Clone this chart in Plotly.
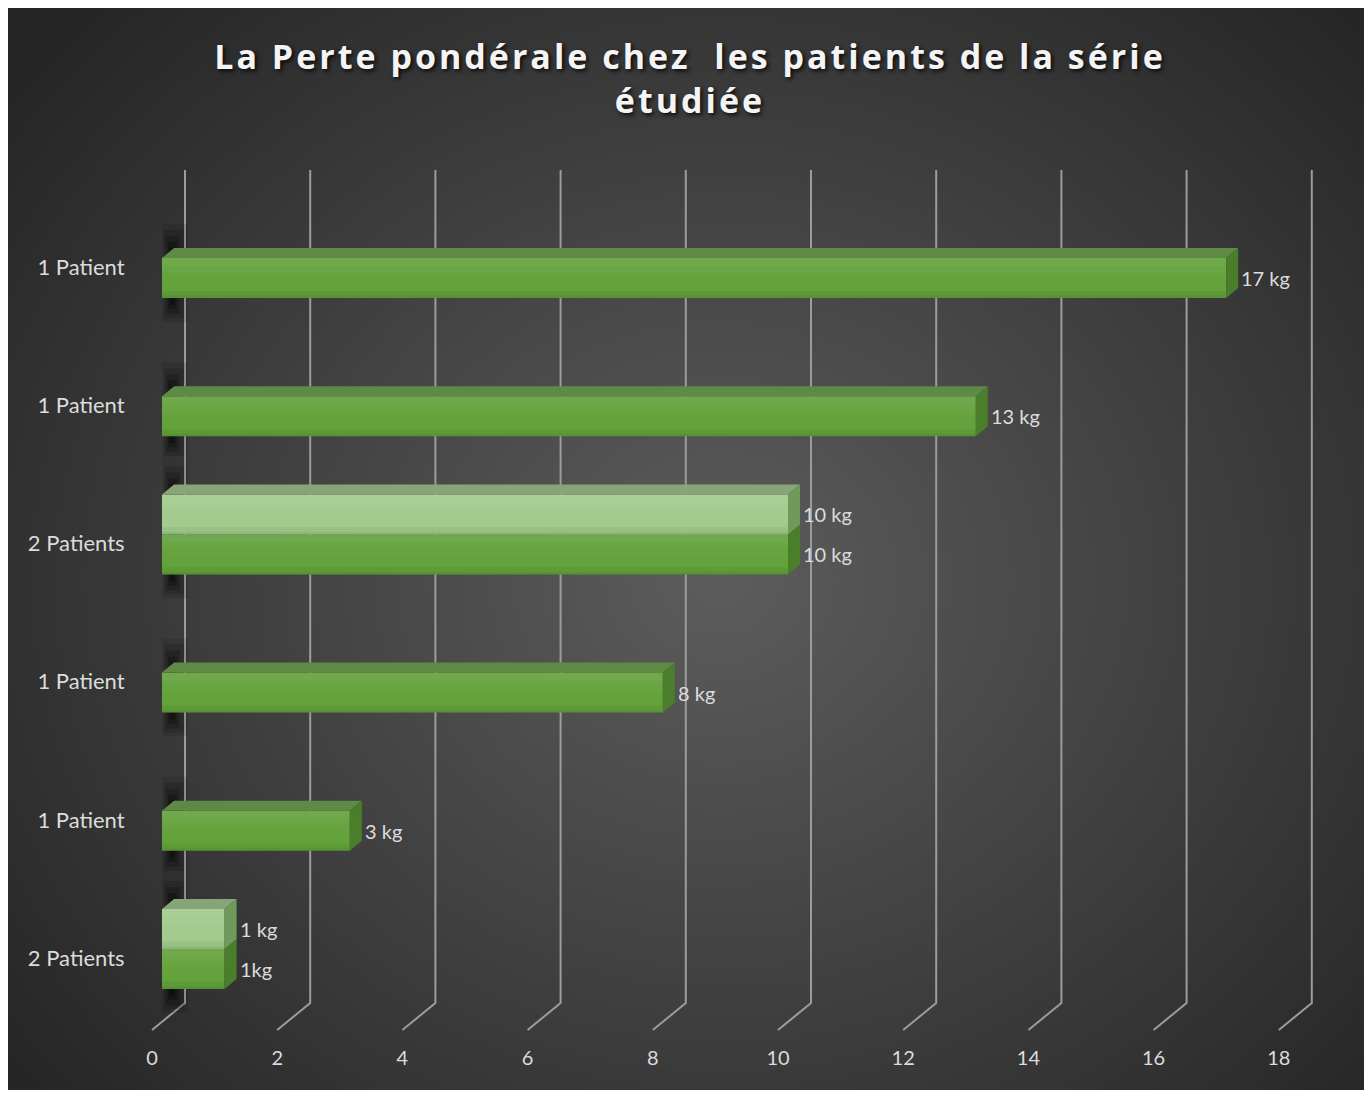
import base64, struct, zlib
import numpy as np
import plotly.graph_objects as go

# ---------------- data (top to bottom as displayed) ----------------
categories = ["1 Patient", "1 Patient", "2 Patients", "1 Patient", "1 Patient", "2 Patients"]
serie1 = [17, 13, 10, 8, 3, 1]                    # dark green series
serie2 = [None, None, 10, None, None, 1]          # light green series
labels1 = ["17 kg", "13 kg", "10 kg", "8 kg", "3 kg", "1kg"]
labels2 = [None, None, "10 kg", None, None, "1 kg"]
xticks = [0, 2, 4, 6, 8, 10, 12, 14, 16, 18]
title_line1 = "La Perte pondérale chez  les patients de la série"
title_line2 = "étudiée"

# ---------------- geometry (page has an 8px body margin) ----------------
OFF = 8
W, H = 1372 - OFF, 1093 - OFF
ML, MR, MT, MB = 132, 40, 142, 58
PX0, PXU = 162.0 - OFF, 62.6      # pixel of value 0 (bar front), pixels per unit
PY0, PYU = 958.0 - OFF, 138.2     # pixel of bottom category tick, pixels per category
plot_w, plot_h = W - ML - MR, H - MT - MB
ux, uy = 1 / PXU, 1 / PYU
xr = [(ML - PX0) * ux, (W - MR - PX0) * ux]
yr = [(PY0 - (H - MB)) * uy, (PY0 - MT) * uy]

n = len(categories)
pos = [n - 1 - k for k in range(n)]
BW = 40 * uy          # bar thickness
GC = 9 * uy           # group centre offset above tick
DX, DY = 12 * ux, 10 * uy   # 3D depth

DARK = dict(front="#64a23c", top="#5e8a45", side="#4a7e2b")
LIGHT = dict(front="#a3cb8e", top="#87a579", side="#6f9a5a")
TXT = "#dcdcdc"
FONT = "Lato"

# ---------------- background gradient image ----------------
def png_uri(arr):
    h, w, _ = arr.shape
    raw = b"".join(b"\x00" + arr[r].tobytes() for r in range(h))
    def chunk(t, d):
        c = struct.pack(">I", len(d)) + t + d
        return c + struct.pack(">I", zlib.crc32(t + d) & 0xffffffff)
    png = (b"\x89PNG\r\n\x1a\n"
           + chunk(b"IHDR", struct.pack(">IIBBBBB", w, h, 8, 2, 0, 0, 0))
           + chunk(b"IDAT", zlib.compress(raw, 9))
           + chunk(b"IEND", b""))
    return "data:image/png;base64," + base64.b64encode(png).decode()

gw, gh = 340, 271
BX0, BY0, BX1, BY1 = 4 - OFF, 5 - OFF, 1364 - OFF, 1090 - OFF
Xs = BX0 + OFF + (np.arange(gw) + 0.5) * (BX1 - BX0) / gw
Ys = BY0 + OFF + (np.arange(gh) + 0.5) * (BY1 - BY0) / gh
XX, YY = np.meshgrid(Xs, Ys)
d = np.sqrt(((XX - 720) / 900) ** 2 + ((YY - 580) / 800) ** 2)
v = 38 + (93 - 38) * np.clip(1 - d, 0, 1)
arr = np.repeat(np.clip(v, 0, 255).astype(np.uint8)[:, :, None], 3, axis=2)
bg_uri = png_uri(arr)

# ---------------- figure ----------------
fig = go.Figure()

fig.add_trace(go.Bar(
    y=pos, x=serie1, orientation="h", width=BW, offset=GC - BW,
    marker=dict(color=DARK["front"], line=dict(width=0)),
    name="Série 1", showlegend=False, hoverinfo="x"))

ly = [p for p, s in zip(pos, serie2) if s is not None]
lx = [s for s in serie2 if s is not None]
fig.add_trace(go.Bar(
    y=ly, x=lx, orientation="h", width=BW, offset=GC,
    marker=dict(color=LIGHT["front"], line=dict(width=0)),
    name="Série 2", showlegend=False, hoverinfo="x"))

# invisible trace for the floor tick axis
fig.add_trace(go.Scatter(x=[xticks[0]], y=[pos[-1]], xaxis="x2", mode="markers",
                         marker=dict(opacity=0), hoverinfo="skip", showlegend=False))

shapes = []
# gridlines with 3D floor foot
y_top = (PY0 - (170 - OFF)) * uy
y_vb = (PY0 - (1003 - OFF)) * uy
y_de = (PY0 - (1030 - OFF)) * uy
for t in xticks:
    xb = t + 23 * ux
    xf = t - 10 * ux
    shapes.append(dict(type="path", xref="x", yref="y", layer="below",
                       path=f"M {xb},{y_top} L {xb},{y_vb} L {xf},{y_de}",
                       line=dict(color="#9c9c9c", width=2)))

def add_shadow(y0, y1):
    for (a, b, up, dn, op) in [(162, 188, 34, 24, 0.10), (164, 184, 28, 20, 0.14),
                               (166, 180, 22, 16, 0.18), (168, 177, 16, 11, 0.24),
                               (170, 175, 10, 7, 0.28)]:
        shapes.append(dict(type="rect", xref="x", yref="y", layer="below",
                           x0=(a - OFF - PX0) * ux, x1=(b - OFF - PX0) * ux,
                           y0=y0 - dn * uy, y1=y1 + up * uy,
                           fillcolor=f"rgba(0,0,0,{op})", line=dict(width=0)))

# front-face vertical gradient (fraction from bottom, rgba)
GRAD = [(0.00, 0.06, "rgba(0,40,0,0.12)"), (0.06, 0.18, "rgba(0,40,0,0.06)"),
        (0.50, 0.65, "rgba(255,255,255,0.025)"), (0.65, 0.80, "rgba(255,255,255,0.05)"),
        (0.80, 1.00, "rgba(255,255,255,0.08)")]

def add_bar_faces(val, y0, y1, col, draw_top):
    for f0, f1, c in GRAD:
        shapes.append(dict(type="rect", xref="x", yref="y", layer="above",
                           x0=0, x1=val, y0=y0 + f0 * (y1 - y0), y1=y0 + f1 * (y1 - y0),
                           fillcolor=c, line=dict(width=0)))
    if draw_top:
        shapes.append(dict(type="path", xref="x", yref="y", layer="above",
                           path=f"M 0,{y1} L {val},{y1} L {val + DX},{y1 + DY} L {DX},{y1 + DY} Z",
                           fillcolor=col["top"], line=dict(width=0)))
    shapes.append(dict(type="path", xref="x", yref="y", layer="above",
                       path=f"M {val},{y0} L {val},{y1} L {val + DX},{y1 + DY} L {val + DX},{y0 + DY} Z",
                       fillcolor=col["side"], line=dict(width=0)))

annotations = []
lab_font = dict(family=FONT, size=20, color=TXT)
for p, s1, s2, l1, l2 in zip(pos, serie1, serie2, labels1, labels2):
    y0 = p + GC - BW
    y1 = p + GC
    top = y1 + (BW if s2 is not None else 0)
    add_shadow(y0, top)
    add_bar_faces(s1, y0, y1, DARK, draw_top=(s2 is None))
    annotations.append(dict(x=s1, y=(y0 + y1) / 2, xref="x", yref="y", text=l1,
                            showarrow=False, xanchor="left", yanchor="middle",
                            xshift=13, font=lab_font))
    if s2 is not None:
        add_bar_faces(s2, y1, y1 + BW, LIGHT, draw_top=True)
        annotations.append(dict(x=s2, y=y1 + BW / 2, xref="x", yref="y", text=l2,
                                showarrow=False, xanchor="left", yanchor="middle",
                                xshift=13, font=lab_font))

title_text = ("<span style='letter-spacing:3px'>" + title_line1 + "<br>" + title_line2 + "</span>")

fig.update_layout(
    width=W, height=H,
    margin=dict(l=ML, r=MR, t=MT, b=MB, pad=0),
    paper_bgcolor="#ffffff",
    plot_bgcolor="rgba(0,0,0,0)",
    barmode="overlay",
    showlegend=False,
    title=dict(text=title_text, x=0.5, xref="container", xanchor="center",
               y=1 - 61 / H, yref="container", yanchor="middle",
               font=dict(family="Open Sans", size=34, weight="bold", color="#f4f4f4",
                         shadow="2px 2px 4px rgba(0,0,0,0.85)")),
    xaxis=dict(range=xr, showgrid=False, zeroline=False, showline=False,
               showticklabels=False, ticks=""),
    xaxis2=dict(range=[xr[0] + 10 * ux, xr[1] + 10 * ux], overlaying="x", anchor="y",
                side="bottom", tickvals=xticks, ticktext=[str(t) for t in xticks],
                showgrid=False, zeroline=False, showline=False,
                ticks="outside", ticklen=5, tickcolor="rgba(0,0,0,0)",
                tickfont=dict(family=FONT, size=20, color=TXT)),
    yaxis=dict(range=yr, tickvals=pos, ticktext=categories, showgrid=False,
               zeroline=False, showline=False, ticks="outside", ticklen=10,
               tickcolor="rgba(0,0,0,0)",
               tickfont=dict(family=FONT, size=22, color=TXT)),
    shapes=shapes,
    annotations=annotations,
    images=[dict(source=bg_uri, xref="paper", yref="paper",
                 x=(BX0 - ML) / plot_w, y=1 + (MT - BY0) / plot_h,
                 sizex=(BX1 - BX0) / plot_w, sizey=(BY1 - BY0) / plot_h,
                 xanchor="left", yanchor="top", sizing="stretch", layer="below")],
)

fig.write_html("out.html")
